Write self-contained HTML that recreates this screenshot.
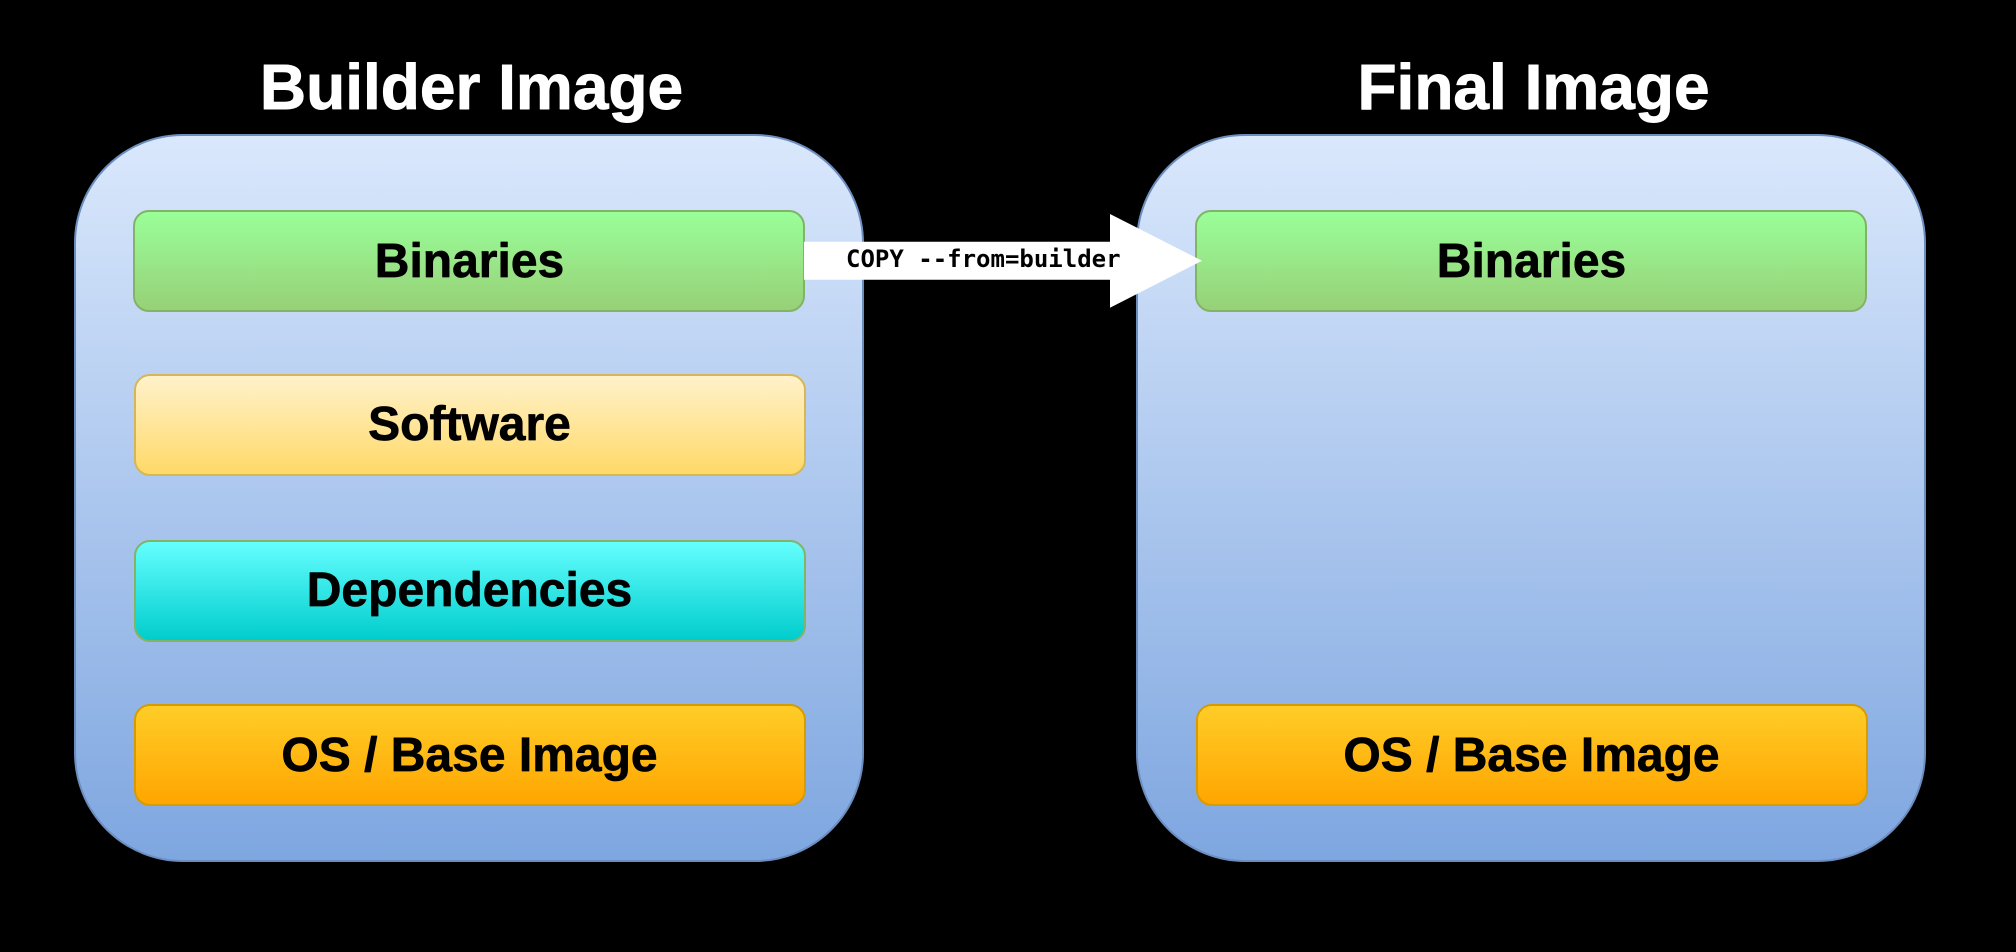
<!DOCTYPE html>
<html>
<head>
<meta charset="utf-8">
<style>
html,body{margin:0;padding:0;background:#000;width:2016px;height:952px;overflow:hidden}
svg{display:block}
.t{font-family:"Liberation Sans",Arial,sans-serif;font-weight:bold;text-anchor:middle;stroke-width:.7px;stroke-linejoin:round}
.k{stroke:#000}
.w{stroke:#fff;stroke-width:.9px}
</style>
</head>
<body>
<svg xmlns="http://www.w3.org/2000/svg" width="2016" height="952" viewBox="0 0 2016 952">
<defs>
<linearGradient id="o" x1="0" y1="0" x2="0" y2="1"><stop offset="0" stop-color="#dae8fc"/><stop offset="1" stop-color="#7ea6e0"/></linearGradient>
<linearGradient id="g" x1="0" y1="0" x2="0" y2="1"><stop offset="0" stop-color="#99ff99"/><stop offset="1" stop-color="#97d077"/></linearGradient>
<linearGradient id="y" x1="0" y1="0" x2="0" y2="1"><stop offset="0" stop-color="#fff2cc"/><stop offset="1" stop-color="#ffd966"/></linearGradient>
<linearGradient id="c" x1="0" y1="0" x2="0" y2="1"><stop offset="0" stop-color="#66ffff"/><stop offset="1" stop-color="#00cccc"/></linearGradient>
<linearGradient id="a" x1="0" y1="0" x2="0" y2="1"><stop offset="0" stop-color="#ffcd28"/><stop offset="1" stop-color="#ffa500"/></linearGradient>
</defs>
<rect width="2016" height="952" fill="#000"/>

<text class="t w" x="471.5" y="109" font-size="64" fill="#fff">Builder Image</text>
<text class="t w" x="1533.5" y="109" font-size="64" fill="#fff">Final Image</text>

<rect x="75" y="135" width="788" height="726" rx="108" ry="108" fill="url(#o)" stroke="#6c8ebf" stroke-width="2"/>
<rect x="1137" y="135" width="788" height="726" rx="108" ry="108" fill="url(#o)" stroke="#6c8ebf" stroke-width="2"/>

<rect x="134" y="211" width="670" height="100" rx="15" ry="15" fill="url(#g)" stroke="#82b366" stroke-width="2"/>
<rect x="135" y="375" width="670" height="100" rx="15" ry="15" fill="url(#y)" stroke="#d6b656" stroke-width="2"/>
<rect x="135" y="541" width="670" height="100" rx="15" ry="15" fill="url(#c)" stroke="#82b366" stroke-width="2"/>
<rect x="135" y="705" width="670" height="100" rx="15" ry="15" fill="url(#a)" stroke="#d79b00" stroke-width="2"/>
<rect x="1196" y="211" width="670" height="100" rx="15" ry="15" fill="url(#g)" stroke="#82b366" stroke-width="2"/>
<rect x="1197" y="705" width="670" height="100" rx="15" ry="15" fill="url(#a)" stroke="#d79b00" stroke-width="2"/>

<text class="t k" x="469.5" y="277" font-size="48" fill="#000">Binaries</text>
<text class="t k" x="469.5" y="440" font-size="48" fill="#000">Software</text>
<text class="t k" x="469.5" y="606" font-size="48" fill="#000">Dependencies</text>
<text class="t k" x="469.5" y="771" font-size="48" fill="#000">OS / Base Image</text>
<text class="t k" x="1531.5" y="277" font-size="48" fill="#000">Binaries</text>
<text class="t k" x="1531.5" y="771" font-size="48" fill="#000">OS / Base Image</text>

<polygon points="804,241.7 1110,241.7 1110,214 1202,260.7 1110,307.7 1110,279.7 804,279.7" fill="#fff"/>
<text x="846" y="267" font-family="'DejaVu Sans Mono','Liberation Mono',monospace" font-weight="bold" font-size="24" fill="#000">COPY --from=builder</text>
</svg>
</body>
</html>
